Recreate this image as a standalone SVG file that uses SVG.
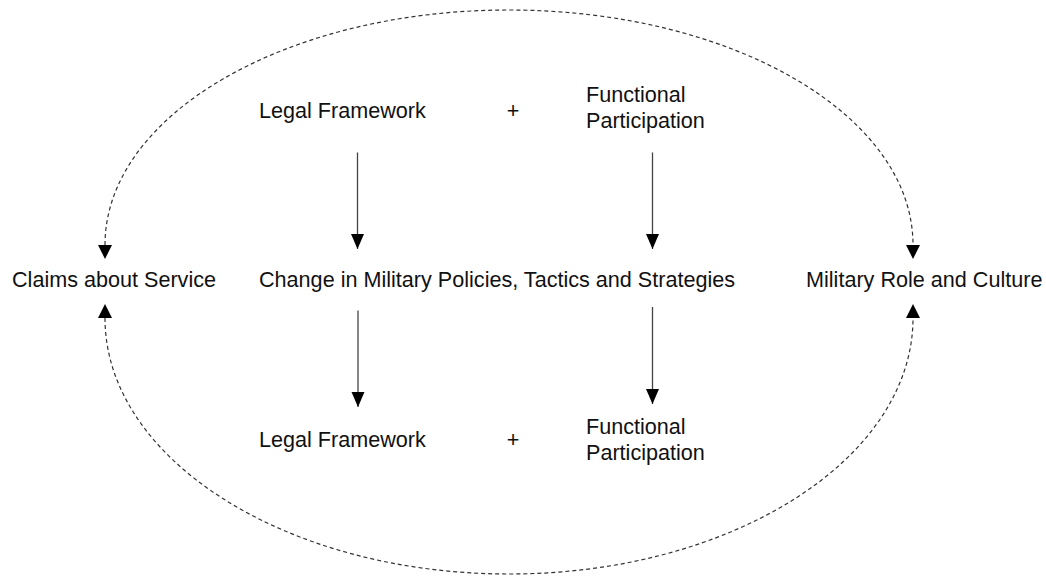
<svg xmlns="http://www.w3.org/2000/svg" width="1046" height="577" viewBox="0 0 1046 577">
  <style>
    .lbl { font-family: "Liberation Sans", Arial, sans-serif; font-size: 21.6px; fill: #111; }
    .flow { stroke: #444; stroke-width: 1.3; fill: none; }
    .loop { stroke: #333; stroke-width: 1.2; fill: none; stroke-dasharray: 4 3; }
  </style>
  <defs>
    <!-- solid head, tip at the end of the line -->
    <marker id="head" markerUnits="userSpaceOnUse" markerWidth="16" markerHeight="14" refX="15" refY="6.5" orient="auto">
      <path d="M0,0 L15,6.5 L0,13 z" fill="#000"/>
    </marker>
    <!-- head for the dashed loop, base at the end of the curve -->
    <marker id="loopHead" markerUnits="userSpaceOnUse" markerWidth="15" markerHeight="15" refX="0" refY="7" orient="auto-start-reverse">
      <path d="M0,0 L14,7 L0,14 z" fill="#000"/>
    </marker>
  </defs>

  <g id="connectors">
    <!-- dashed feedback loop -->
    <path class="loop" d="M105,245 C105,115 286,10 509,10 C732,10 913,115 913,245" marker-start="url(#loopHead)" marker-end="url(#loopHead)"/>
    <path class="loop" d="M105,318 C105,459 286,574 509,574 C732,574 913,459 913,318" marker-start="url(#loopHead)" marker-end="url(#loopHead)"/>
    <!-- vertical flow arrows -->
    <line class="flow" x1="357.5" y1="152.5" x2="357.5" y2="249" marker-end="url(#head)"/>
    <line class="flow" x1="652.5" y1="152.5" x2="652.5" y2="249" marker-end="url(#head)"/>
    <line class="flow" x1="358" y1="310.5" x2="358" y2="407" marker-end="url(#head)"/>
    <line class="flow" x1="652.5" y1="307" x2="652.5" y2="404" marker-end="url(#head)"/>
  </g>

  <g id="legal-top"><text class="lbl" x="259" y="118">Legal Framework</text></g>
  <g id="plus-top"><text class="lbl" x="513" y="118" text-anchor="middle">+</text></g>
  <g id="functional-top">
    <text class="lbl" x="586" y="102">Functional</text>
    <text class="lbl" x="586" y="128">Participation</text>
  </g>

  <g id="claims"><text class="lbl" x="12" y="287">Claims about Service</text></g>
  <g id="change"><text class="lbl" x="259" y="287">Change in Military Policies, Tactics and Strategies</text></g>
  <g id="military"><text class="lbl" x="806" y="287">Military Role and Culture</text></g>

  <g id="legal-bottom"><text class="lbl" x="259" y="447">Legal Framework</text></g>
  <g id="plus-bottom"><text class="lbl" x="513" y="447" text-anchor="middle">+</text></g>
  <g id="functional-bottom">
    <text class="lbl" x="586" y="434">Functional</text>
    <text class="lbl" x="586" y="460">Participation</text>
  </g>
</svg>
